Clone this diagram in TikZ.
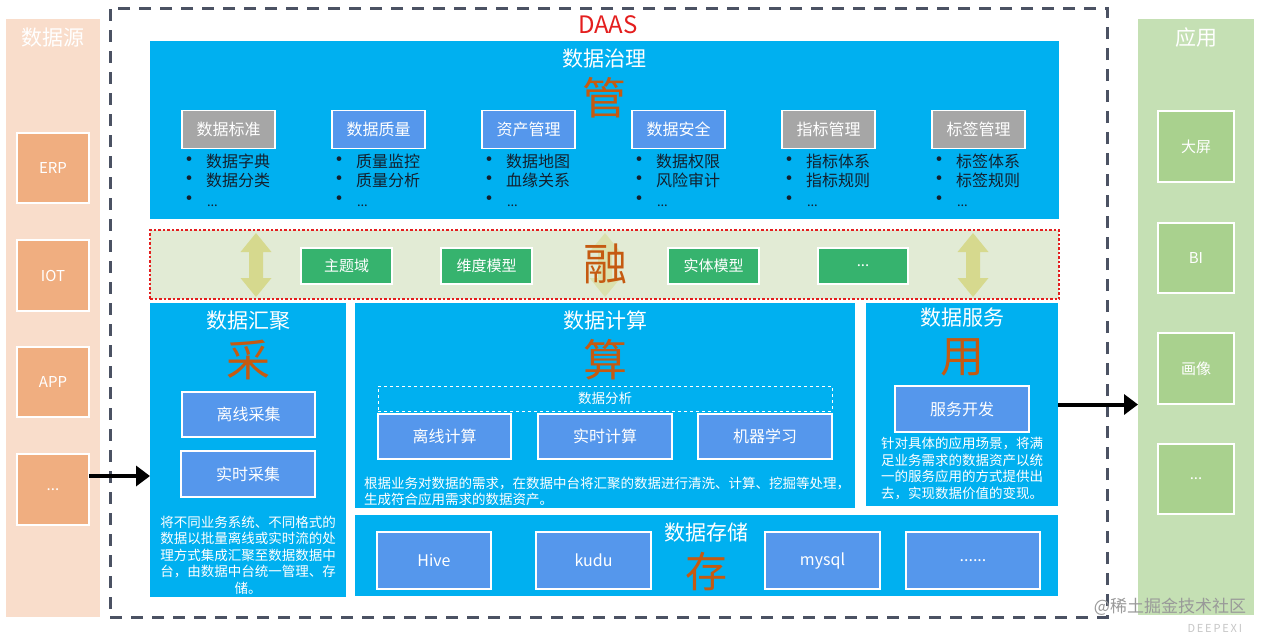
\documentclass[tikz,border=0pt]{standalone}
\usepackage{fontspec}
\setmainfont{Noto Sans CJK SC}
\usetikzlibrary{arrows.meta}
\definecolor{peach}{HTML}{F9DDCB}
\definecolor{srcor}{HTML}{F0AE80}
\definecolor{cyanb}{HTML}{00B0F0}
\definecolor{subblue}{HTML}{5597EC}
\definecolor{subgray}{HTML}{A6A6A6}
\definecolor{fuse}{HTML}{E2EBD5}
\definecolor{gbox}{HTML}{36B36E}
\definecolor{appg}{HTML}{C5E0B4}
\definecolor{appbox}{HTML}{A9D18E}
\definecolor{rust}{HTML}{C55A11}
\definecolor{daasred}{HTML}{E41E1E}
\definecolor{frame}{HTML}{4B5263}
\definecolor{khaki}{HTML}{D6D98E}
\definecolor{darktxt}{HTML}{13202E}
\newcommand\fsz[2]{\fontsize{#1}{#2}\selectfont}
\newcommand\bulsym{\smash{\fsz{22}{18}•}}
\tikzset{
  every node/.style={inner sep=0pt,outer sep=0pt},
  panel/.style={fill=#1,draw=none},
  cbox/.style={fill=#1,draw=white,line width=1.2pt,text=white,font=\fsz{15}{18}},
  blk/.style={fill=cyanb,draw=none},
  ttl/.style={text=white,font=\fsz{21}{24}},
  bigc/.style={text=rust,font=\fsz{44}{46}},
  para/.style={text=white,font=\fsz{13.5}{16.5}},
  bul/.style={text=darktxt,font=\fsz{16}{19.5},anchor=west,align=left},
  bigarrow/.style={line width=4pt,-{Triangle[length=14pt,width=20pt]}},
  dblarr/.pic={\fill[khaki] (0,-32) -- (15.5,-13) -- (7,-13) -- (7,13) -- (15.5,13) -- (0,32) -- (-15.5,13) -- (-7,13) -- (-7,-13) -- (-15.5,-13) -- cycle;}
}
\begin{document}
\begin{tikzpicture}[x=1pt,y=-1pt]
\useasboundingbox[fill=white] (0,0) rectangle (1266,638);
% data source panel
\node[panel=peach,minimum width=94pt,minimum height=598pt] (src) at (53,318) {};
\node[text=white,font=\fsz{21}{22}] (srct) at (53,38) {数据源};
\node[cbox=srcor,minimum width=72pt,minimum height=70pt] (s1) at (53,168) {ERP};
\node[cbox=srcor,minimum width=72pt,minimum height=71pt] (s2) at (53,275.5) {IOT};
\node[cbox=srcor,minimum width=72pt,minimum height=70pt] (s3) at (53,382) {APP};
\node[cbox=srcor,minimum width=72pt,minimum height=71pt] (s4) at (53,489.5) {...};
% application panel
\node[panel=appg,minimum width=116pt,minimum height=596pt] (app) at (1196,317) {};
\node[text=white,font=\fsz{21}{22}] (appt) at (1196,38) {应用};
\node[cbox=appbox,minimum width=76pt,minimum height=71pt] (a1) at (1196,146.5) {大屏};
\node[cbox=appbox,minimum width=76pt,minimum height=70pt] (a2) at (1196,258) {BI};
\node[cbox=appbox,minimum width=76pt,minimum height=71pt] (a3) at (1196,368.5) {画像};
\node[cbox=appbox,minimum width=76pt,minimum height=70pt] (a4) at (1196,479) {...};
% DAAS frame
\node[draw=frame,line width=3pt,dash pattern=on 12pt off 9pt,minimum width=997pt,minimum height=609pt] (daas) at (608.5,312.5) {};
\node[text=daasred,font=\fsz{24}{26}] (daast) at (608,25) {DAAS};
% governance
\node[blk,minimum width=909pt,minimum height=178pt] (gov) at (604.5,130) {};
\node[ttl] (govt) at (604,59) {数据治理};
\node[bigc] (guan) at (604,98) {管};
\foreach \i/\nm/\c/\p/\q in {0/数据标准/subgray/数据字典/数据分类,1/数据质量/subblue/质量监控/质量分析,2/资产管理/subblue/数据地图/血缘关系,3/数据安全/subblue/数据权限/风险审计,4/指标管理/subgray/指标体系/指标规则,5/标签管理/subgray/标签体系/标签规则}{
  \node[cbox=\c,font=\fsz{16}{18},minimum width=93pt,minimum height=38pt] (g\i) at (228.5+150*\i,129.5) {\nm};
  \node[bul] (gl\i) at (178+150*\i,180) {\bulsym\hspace{6pt}\p\\\bulsym\hspace{6pt}\q\\\bulsym\hspace{7pt}{\fsz{13}{14}...}};
}
% fusion band
\node[fill=fuse,draw=daasred,line width=2.5pt,dash pattern=on 2.5pt off 2pt,minimum width=909pt,minimum height=69pt] (fuse) at (604.5,264.5) {};
\pic at (256,265) {dblarr};
\pic at (973,265) {dblarr};
\pic[opacity=0.55] at (605,265) {dblarr};
\node[cbox=gbox,minimum width=91pt,minimum height=36pt] (f1) at (346.5,266) {主题域};
\node[cbox=gbox,minimum width=91pt,minimum height=36pt] (f2) at (486.5,266) {维度模型};
\node[cbox=gbox,minimum width=91pt,minimum height=36pt] (f3) at (713.5,266) {实体模型};
\node[cbox=gbox,minimum width=90pt,minimum height=36pt] (f4) at (863,266) {...};
\node[bigc] (rong) at (605,264) {融};
% collect
\node[blk,minimum width=196pt,minimum height=294pt] (hui) at (248,450) {};
\node[ttl] (huit) at (248,321) {数据汇聚};
\node[bigc] (cai) at (248,360) {采};
\node[cbox=subblue,font=\fsz{16}{18},minimum width=133pt,minimum height=45pt] (h1) at (248.5,414.5) {离线采集};
\node[cbox=subblue,font=\fsz{16}{18},minimum width=134pt,minimum height=46pt] (h2) at (248,474) {实时采集};
\node[para,align=center] (hp) at (248,555) {将不同业务系统、不同格式的\\数据以批量离线或实时流的处\\理方式集成汇聚至数据数据中\\台，由数据中台统一管理、存\\储。};
% compute
\node[blk,minimum width=500pt,minimum height=205pt] (calc) at (605,405.5) {};
\node[ttl] (calct) at (605,320) {数据计算};
\node[bigc] (suan) at (605,360) {算};
\node[draw=white,line width=0.8pt,dashed,minimum width=454pt,minimum height=25pt,text=white,font=\fsz{13.5}{15}] (ana) at (605,398.5) {数据分析};
\node[cbox=subblue,font=\fsz{16}{18},minimum width=133pt,minimum height=45pt] (c1) at (444.5,436.5) {离线计算};
\node[cbox=subblue,font=\fsz{16}{18},minimum width=134pt,minimum height=45pt] (c2) at (605,436.5) {实时计算};
\node[cbox=subblue,font=\fsz{16}{18},minimum width=134pt,minimum height=45pt] (c3) at (765,436.5) {机器学习};
\node[para,align=left,anchor=west] (cp) at (364,491.5) {根据业务对数据的需求，在数据中台将汇聚的数据进行清洗、计算、挖掘等处理，\\生成符合应用需求的数据资产。};
% service
\node[blk,minimum width=192pt,minimum height=203pt] (fuwu) at (962,404.5) {};
\node[ttl] (fuwut) at (962,318) {数据服务};
\node[bigc] (yong) at (962,357) {用};
\node[cbox=subblue,font=\fsz{16}{18},minimum width=134pt,minimum height=46pt] (fw1) at (962,409) {服务开发};
\node[para,align=left] (fp) at (962,468.5) {针对具体的应用场景，将满\\足业务需求的数据资产以统\\一的服务应用的方式提供出\\去，实现数据价值的变现。};
% storage
\node[blk,minimum width=703pt,minimum height=81pt] (store) at (706.5,555.5) {};
\node[cbox=subblue,font=\fsz{16}{18},minimum width=114pt,minimum height=57pt] (st1) at (434,560.5) {Hive};
\node[cbox=subblue,font=\fsz{16}{18},minimum width=115pt,minimum height=57pt] (st2) at (593.5,560.5) {kudu};
\node[cbox=subblue,font=\fsz{16}{18},minimum width=115pt,minimum height=57pt] (st3) at (822.5,560.5) {mysql};
\node[cbox=subblue,font=\fsz{16}{18},minimum width=134pt,minimum height=57pt] (st4) at (973,560.5) {......};
\node[ttl] (storet) at (706,533) {数据存储};
\node[bigc,font=\fsz{42}{44}] (cun) at (706,572) {存};
% connectors
\draw[bigarrow] ([yshift=13.5pt]s4.east) -- ([yshift=13.5pt]s4.east -| hui.west);
\draw[bigarrow] (fuwu.east) -- (fuwu.east -| app.west);
% watermark
\node[text=gray!80,font=\fsz{17}{18},anchor=east] (wm) at (1246,607) {@稀土掘金技术社区};
\node[text=gray!45,font=\fsz{11}{12},anchor=east] (wm2) at (1242,628) {D\,E\,E\,P\,E\,X\,I};
\end{tikzpicture}
\end{document}
